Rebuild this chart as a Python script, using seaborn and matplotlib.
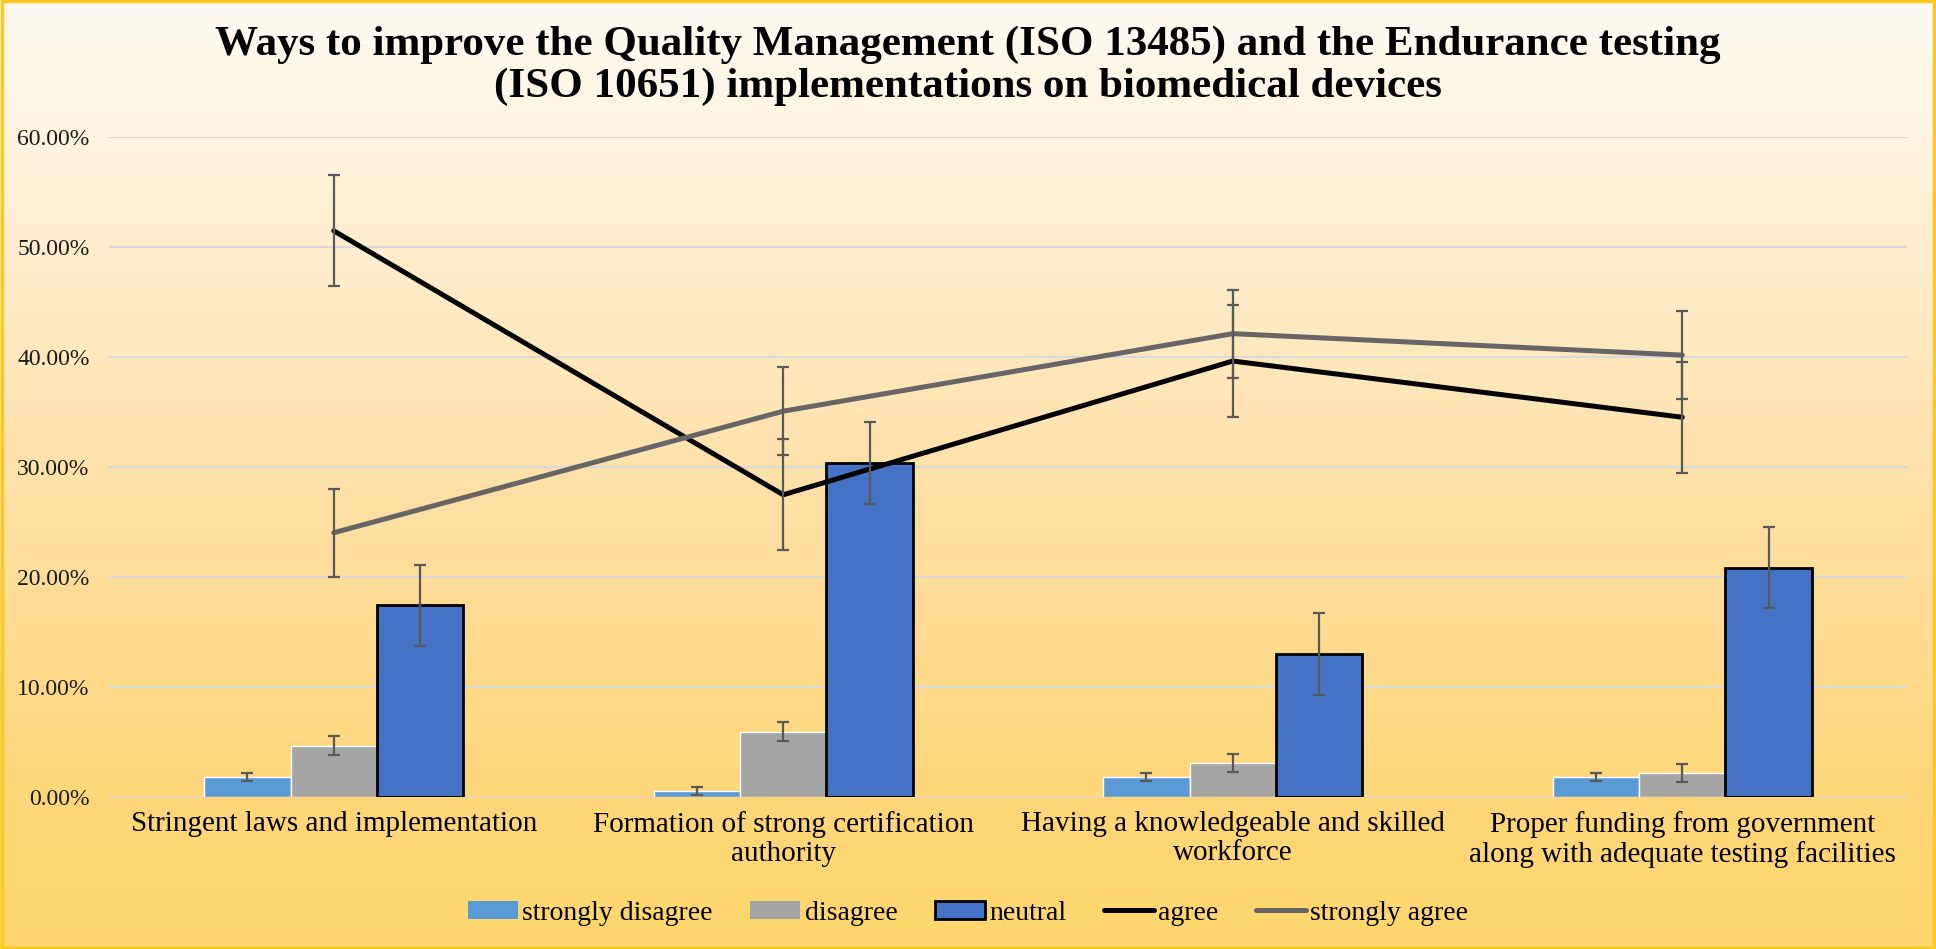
import numpy as np
import pandas as pd
import seaborn as sns
import matplotlib.pyplot as plt
from matplotlib.colors import LinearSegmentedColormap
from matplotlib.patches import Patch, Rectangle
from matplotlib.lines import Line2D
from matplotlib.ticker import FuncFormatter

sns.set_style('white')
plt.rcParams['font.family'] = ['Liberation Serif', 'DejaVu Serif']
plt.rcParams['text.color'] = 'black'

# data (percent)
categories = ['Stringent laws and implementation',
              'Formation of strong certification\nauthority',
              'Having a knowledgeable and skilled\nworkforce',
              'Proper funding from government\nalong with adequate testing facilities']
strongly_disagree = [1.85, 0.60, 1.85, 1.85]
disagree = [4.69, 5.96, 3.12, 2.20]
neutral = [17.45, 30.40, 13.03, 20.87]
agree = [51.50, 27.50, 39.66, 34.55]
strongly_agree = [24.05, 35.10, 42.15, 40.20]

err_strongly_disagree = [0.35, 0.35, 0.35, 0.35]
err_disagree = [0.85, 0.85, 0.85, 0.85]
err_neutral = [3.70, 3.70, 3.70, 3.70]
err_agree = [5.05, 5.05, 5.05, 5.05]
err_strongly_agree = [4.00, 4.00, 4.00, 4.00]

bar_series = ['strongly disagree', 'disagree', 'neutral']
bar_colors = ['#5B9BD5', '#A5A5A5', '#4472C4']

title = ('Ways to improve the Quality Management (ISO 13485) and the Endurance testing\n'
         '(ISO 10651) implementations on biomedical devices')

bars_df = pd.DataFrame({
    'category': categories * 3,
    'series': np.repeat(bar_series, len(categories)),
    'value': strongly_disagree + disagree + neutral,
})

W, H = 1936, 949
fig = plt.figure(figsize=(W / 100, H / 100), dpi=100)

# gradient background
bg = fig.add_axes([0, 0, 1, 1], zorder=-10)
cmap = LinearSegmentedColormap.from_list('bg', [
    (0.0, (255/255, 251/255, 243/255)),
    (0.16, (254/255, 243/255, 221/255)),
    (0.59, (254/255, 221/255, 156/255)),
    (0.84, (254/255, 215/255, 122/255)),
    (1.0, (254/255, 214/255, 108/255)),
])
bg.imshow(np.linspace(0, 1, 256).reshape(-1, 1), aspect='auto', cmap=cmap,
          extent=[0, 1, 0, 1], origin='upper')
bg.set_axis_off()
fig.patches.append(Rectangle((0.001, 0.001), 0.998, 0.998, transform=fig.transFigure,
                             fill=False, edgecolor='#FFC820', lw=2.5))

ax = fig.add_axes([109 / W, 1 - 797.3 / H, (1907 - 109) / W, 660 / H])
ax.patch.set_alpha(0)

sns.barplot(data=bars_df, x='category', y='value', hue='series', hue_order=bar_series,
            palette=bar_colors, saturation=1, width=0.577, errorbar=None,
            legend=False, ax=ax, zorder=2)

bar_errs = [err_strongly_disagree, err_disagree, err_neutral]
for cont, errs, name in zip(ax.containers, bar_errs, bar_series):
    xs = [b.get_x() + b.get_width() / 2 for b in cont]
    ys = [b.get_height() for b in cont]
    if name == 'neutral':
        for b in cont:
            b.set_edgecolor('black')
            b.set_linewidth(2)
    ax.errorbar(xs, ys, yerr=errs, fmt='none', ecolor='#595959', elinewidth=1.6,
                capsize=4.5, capthick=1.6, zorder=5)

xpos = np.arange(len(categories))
ax.plot(xpos, agree, color='black', lw=3.6, zorder=3)
ax.plot(xpos, strongly_agree, color='#666666', lw=3.6, zorder=3)
ax.errorbar(xpos, agree, yerr=err_agree, fmt='none', ecolor='#595959', elinewidth=1.6,
            capsize=4.5, capthick=1.6, zorder=5)
ax.errorbar(xpos, strongly_agree, yerr=err_strongly_agree, fmt='none', ecolor='#595959',
            elinewidth=1.6, capsize=4.5, capthick=1.6, zorder=5)

ax.set_xlim(-0.5, len(categories) - 0.5)
ax.set_ylim(0, 60)
ax.set_yticks(np.arange(0, 61, 10))
ax.yaxis.set_major_formatter(FuncFormatter(lambda v, p: f'{v:.2f}%'))
ax.yaxis.grid(True, color='#D9D9D9', lw=1.5)
ax.set_axisbelow(True)
ax.set_xlabel('')
ax.set_ylabel('')
sns.despine(ax=ax, left=True, bottom=True)
ax.tick_params(axis='y', length=0, pad=14, labelsize=17, labelcolor='#1a1a1a')
ax.tick_params(axis='x', length=0, pad=10, labelsize=21, labelcolor='black')
for lab in ax.get_xticklabels():
    lab.set_linespacing(1.12)

fig.text(0.5, 1 - 26 / H, title, ha='center', va='top', fontsize=31,
         fontweight='bold', linespacing=1.12, color='black')

handles = [
    Patch(facecolor=bar_colors[0], edgecolor='none'),
    Patch(facecolor=bar_colors[1], edgecolor='none'),
    Patch(facecolor=bar_colors[2], edgecolor='black', linewidth=2),
    Line2D([], [], color='black', lw=3.6),
    Line2D([], [], color='#666666', lw=3.6),
]
labels = ['strongly disagree', 'disagree', 'neutral', 'agree', 'strongly agree']
fig.legend(handles, labels, loc='center', bbox_to_anchor=(968 / W, 1 - 913 / H),
           ncol=5, frameon=False, fontsize=20, handlelength=1.8, handleheight=0.6,
           handletextpad=0.15, columnspacing=1.35)

fig.savefig('out.png', dpi=100)
